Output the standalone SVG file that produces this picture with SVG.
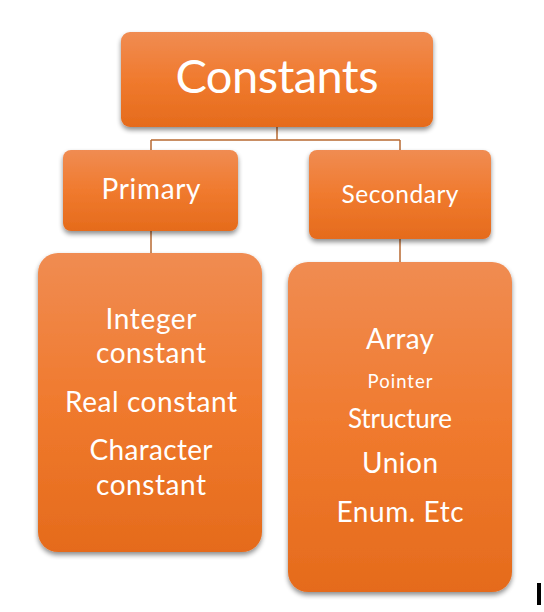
<svg xmlns="http://www.w3.org/2000/svg" width="544" height="612" viewBox="0 0 544 612">
<defs>
<linearGradient id="g" x1="0" y1="0" x2="0" y2="1">
<stop offset="0" stop-color="#F08C52"/>
<stop offset="0.5" stop-color="#F07A2E"/>
<stop offset="1" stop-color="#E56B1C"/>
</linearGradient>
<filter id="sh" x="-10%" y="-10%" width="120%" height="125%">
<feGaussianBlur in="SourceAlpha" stdDeviation="2.5"/>
<feOffset dx="0" dy="3" result="b"/>
<feComponentTransfer><feFuncA type="linear" slope="0.45"/></feComponentTransfer>
<feMerge><feMergeNode/><feMergeNode in="SourceGraphic"/></feMerge>
</filter>
<style>
.box{fill:url(#g);filter:url(#sh);}
.t{fill:#ffffff;font-family:Lato,"Open Sans",sans-serif;text-anchor:middle;}
.c{stroke:#B86A32;stroke-width:1.5;fill:none;}
</style>
</defs>
<rect width="544" height="612" fill="#ffffff"/>
<g id="connectors">
<path class="c" d="M277 127 V140 M151 140 H400 M151 140 V150 M400 140 V150 M151 231 V253 M400 239 V262"/>
</g>
<g id="constants">
<rect class="box" x="121" y="32" width="312" height="95" rx="9"/>
<text class="t" x="277" y="93" font-size="47" textLength="203" lengthAdjust="spacing">Constants</text>
</g>
<g id="primary">
<rect class="box" x="63" y="150" width="175" height="81" rx="8"/>
<text class="t" x="151" y="199" font-size="28" textLength="99" lengthAdjust="spacing">Primary</text>
</g>
<g id="secondary">
<rect class="box" x="309" y="150" width="182" height="89" rx="8"/>
<text class="t" x="400" y="203" font-size="24.5" textLength="117" lengthAdjust="spacing">Secondary</text>
</g>
<g id="primary-list">
<rect class="box" x="38" y="253" width="224" height="299" rx="20"/>
<text class="t" x="151" y="329" font-size="28" textLength="91" lengthAdjust="spacing">Integer</text>
<text class="t" x="151" y="363" font-size="28" textLength="110" lengthAdjust="spacing">constant</text>
<text class="t" x="151" y="412" font-size="28" textLength="172" lengthAdjust="spacing">Real constant</text>
<text class="t" x="151" y="460" font-size="28" textLength="123" lengthAdjust="spacing">Character</text>
<text class="t" x="151" y="495" font-size="28" textLength="110" lengthAdjust="spacing">constant</text>
</g>
<g id="secondary-list">
<rect class="box" x="288" y="262" width="224" height="330" rx="20"/>
<text class="t" x="400" y="349" font-size="28" textLength="68" lengthAdjust="spacing">Array</text>
<text class="t" x="400" y="388" font-size="18.5" textLength="65" lengthAdjust="spacing">Pointer</text>
<text class="t" x="400" y="428" font-size="26" textLength="104" lengthAdjust="spacing">Structure</text>
<text class="t" x="400" y="473" font-size="28" textLength="76" lengthAdjust="spacing">Union</text>
<text class="t" x="400" y="522" font-size="28" textLength="127" lengthAdjust="spacing">Enum. Etc</text>
</g>
<rect x="537" y="583" width="4" height="22" fill="#000000"/>
</svg>
